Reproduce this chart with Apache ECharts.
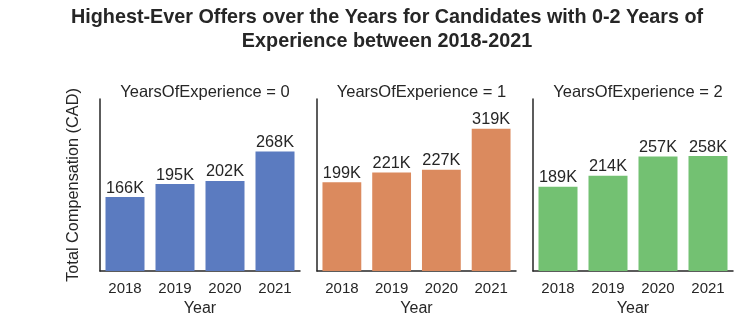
<!DOCTYPE html>
<html>
<head>
<meta charset="utf-8">
<script src="https://cdn.jsdelivr.net/npm/echarts@6/dist/echarts.min.js"></script>
<style>
html,body{margin:0;padding:0;background:#fff;}
#chart{width:750px;height:333px;}
</style>
</head>
<body>
<div id="chart"></div>
<script>
// Highest offers (CAD) per year, one panel per years of experience
const years = ['2018', '2019', '2020', '2021'];
const exp0 = [166000, 195000, 202000, 268000];
const exp1 = [199000, 221000, 227000, 319000];
const exp2 = [189000, 214000, 257000, 258000];
const panelTitles = ['YearsOfExperience = 0', 'YearsOfExperience = 1', 'YearsOfExperience = 2'];
const panelColors = ['#5b7bc0', '#db8a5e', '#73c172'];

const seriesData = [exp0, exp1, exp2];
const grids = [
  { left: 100, width: 200 },
  { left: 317, width: 199 },
  { left: 533, width: 200 }
];
const font = 'Liberation Sans, Arial, sans-serif';

const chart = echarts.init(document.getElementById('chart'), null, { renderer: 'canvas' });

const option = {
  backgroundColor: '#ffffff',
  animation: false,
  textStyle: { fontFamily: font },
  title: [
    {
      text: 'Highest-Ever Offers over the Years for Candidates with 0-2 Years of\nExperience between 2018-2021',
      left: 382, top: 1,
      textAlign: 'center',
      textStyle: { fontSize: 19.8, fontWeight: 'bold', color: '#262626', lineHeight: 23.5, fontFamily: font, align: 'center' }
    }
  ].concat(panelTitles.map((t, i) => ({
    text: t,
    left: grids[i].left + grids[i].width / 2,
    top: 79,
    textAlign: 'center',
    textStyle: { fontSize: 16.5, fontWeight: 'normal', color: '#262626', fontFamily: font }
  }))),
  grid: grids.map(g => ({ left: g.left, width: g.width, top: 99, height: 172 })),
  xAxis: grids.map((g, i) => ({
    type: 'category',
    gridIndex: i,
    data: years,
    name: 'Year',
    nameLocation: 'middle',
    nameGap: 28,
    nameTextStyle: { fontSize: 16, color: '#262626', fontFamily: font },
    axisLine: { lineStyle: { color: '#262626', width: 1.5 } },
    axisTick: { show: false },
    axisLabel: { fontSize: 15, color: '#262626', margin: 10, fontFamily: font }
  })),
  yAxis: grids.map((g, i) => ({
    type: 'value',
    gridIndex: i,
    min: 0,
    max: 386000,
    name: i === 0 ? 'Total Compensation (CAD)' : '',
    nameLocation: 'middle',
    nameGap: 18,
    nameTextStyle: { fontSize: 16.3, color: '#262626', fontFamily: font },
    axisLine: { show: true, lineStyle: { color: '#262626', width: 1.5 } },
    axisTick: { show: false },
    axisLabel: { show: false },
    splitLine: { show: false }
  })),
  series: seriesData.map((d, i) => ({
    type: 'bar',
    xAxisIndex: i,
    yAxisIndex: i,
    data: d,
    barWidth: '78%',
    itemStyle: { color: panelColors[i] },
    label: {
      show: true,
      position: 'top',
      distance: 1,
      fontSize: 16.3,
      color: '#262626',
      fontFamily: font,
      formatter: p => Math.round(p.value / 1000) + 'K'
    }
  }))
};

chart.setOption(option);
</script>
</body>
</html>
